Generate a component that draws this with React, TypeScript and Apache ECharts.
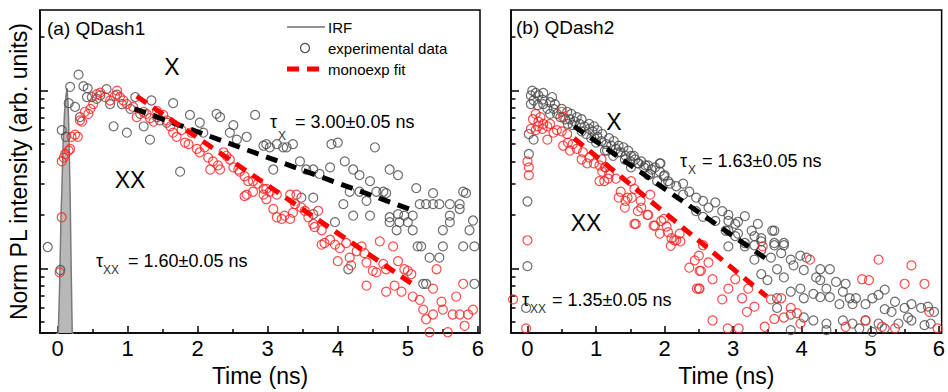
import React, { useEffect, useRef } from "react";
import * as echarts from "echarts";

const FONT = "'Liberation Sans', Arial, sans-serif";

// tick values
const xMajorTicks = [0, 1, 2, 3, 4, 5, 6];
const xMinorTicks = [0.5, 1.5, 2.5, 3.5, 4.5, 5.5];
const yMajorTicks = [0.1, 1];
const yMinorTicks = [0.05, 0.06, 0.07, 0.08, 0.09, 0.2, 0.3, 0.4, 0.5, 0.6, 0.7, 0.8, 0.9, 2];

// (a) QDash1
const qdash1IRF = [
  [-0.02, 0.03], [0.01, 0.042], [0.03, 0.08], [0.05, 0.2], [0.06, 0.26], [0.08, 0.5], [0.1, 0.75],
  [0.12, 0.93], [0.135, 1.03], [0.15, 0.85], [0.16, 0.65], [0.18, 0.26], [0.195, 0.1], [0.21, 0.043], [0.23, 0.03],
];
const qdash1X = [
  [0.06, 0.6], [0.12, 0.55], [0.16, 0.85], [0.18, 1.05], [0.3, 1.23], [0.25, 0.81], [0.32, 0.71], [0.37, 1.06],
  [0.43, 1.03], [0.42, 0.92], [0.49, 0.92], [0.56, 0.9], [0.61, 0.94], [0.7, 1.02], [0.75, 0.84], [0.85, 0.95],
  [0.8, 0.63], [0.99, 0.58], [0.92, 0.84], [1.04, 0.79], [1.11, 0.92], [1.18, 0.74], [1.23, 0.63], [1.32, 0.53],
  [1.34, 0.88], [1.42, 0.71], [1.46, 0.68], [1.56, 0.66], [1.65, 0.85], [1.75, 0.35], [1.89, 0.73], [2.03, 0.66],
  [2.08, 0.58], [2.27, 0.74], [2.32, 0.71], [2.46, 0.58], [2.51, 0.64], [2.56, 0.53], [2.82, 0.73], [2.7, 0.55],
  [2.94, 0.49], [2.98, 0.5], [3.03, 0.48], [3.08, 0.36], [3.13, 0.5], [3.22, 0.48], [3.27, 0.48], [3.36, 0.5],
  [3.46, 0.4], [3.55, 0.36], [3.65, 0.36], [3.74, 0.34], [3.89, 0.37], [3.91, 0.5], [4.0, 0.51], [4.1, 0.4],
  [4.22, 0.36], [4.31, 0.335], [4.46, 0.31], [4.53, 0.48], [4.55, 0.27], [4.65, 0.27], [4.74, 0.36], [4.86, 0.335],
  [5.12, 0.283], [5.36, 0.265], [5.83, 0.265], [-0.14, 0.132], [0.04, 0.098], [4.17, 0.27], [4.31, 0.27],
  [4.69, 0.265], [5.79, 0.27], [3.48, 0.25], [3.65, 0.25], [4.08, 0.23], [4.41, 0.24], [5.17, 0.23], [5.26, 0.23],
  [5.36, 0.23], [5.45, 0.23], [5.6, 0.23], [5.74, 0.23], [3.96, 0.182], [4.22, 0.198], [4.46, 0.198], [4.74, 0.194],
  [4.86, 0.202], [4.95, 0.198], [5.07, 0.198], [5.6, 0.198], [5.74, 0.216], [4.74, 0.182], [4.88, 0.182],
  [5.0, 0.182], [5.6, 0.182], [5.93, 0.186], [4.84, 0.164], [5.07, 0.164], [5.5, 0.164], [5.88, 0.164],
  [5.14, 0.133], [5.19, 0.133], [5.5, 0.133], [5.79, 0.133], [5.95, 0.133], [5.31, 0.115], [5.45, 0.115],
  [4.15, 0.099], [5.22, 0.082], [5.26, 0.082], [5.95, 0.082], [3.65, 0.202],
];
const qdash1XX = [
  [0.06, 0.4], [0.09, 0.42], [0.11, 0.44], [0.16, 0.46], [0.18, 0.47], [0.2, 0.55], [0.25, 0.565], [0.29, 0.55],
  [0.32, 0.68], [0.35, 0.67], [0.39, 0.76], [0.44, 0.74], [0.47, 0.79], [0.51, 0.84], [0.56, 0.955], [0.61, 0.975],
  [0.68, 0.92], [0.75, 0.88], [0.82, 0.935], [0.85, 1.0], [0.89, 0.92], [0.94, 0.88], [0.99, 0.84], [1.08, 0.81],
  [1.13, 0.71], [1.23, 0.76], [1.27, 0.74], [1.32, 0.7], [1.37, 0.67], [1.42, 0.77], [1.51, 0.73], [1.56, 0.68],
  [1.61, 0.63], [1.65, 0.58], [1.7, 0.55], [1.77, 0.6], [1.82, 0.51], [1.87, 0.5], [1.91, 0.58], [1.99, 0.47],
  [2.03, 0.45], [2.1, 0.48], [2.15, 0.42], [2.18, 0.36], [2.22, 0.4], [2.29, 0.38], [2.32, 0.36], [2.37, 0.45],
  [2.41, 0.43], [2.46, 0.41], [2.51, 0.37], [2.58, 0.36], [2.6, 0.35], [2.67, 0.33], [2.72, 0.31], [2.79, 0.31],
  [2.86, 0.3], [2.94, 0.28], [2.98, 0.28], [3.03, 0.27], [3.13, 0.26], [2.7, 0.26], [3.32, 0.26], [3.41, 0.26],
  [2.67, 0.255], [2.79, 0.27], [2.94, 0.26], [2.98, 0.245], [3.08, 0.216], [3.13, 0.194], [3.2, 0.19], [3.24, 0.198],
  [3.32, 0.19], [3.36, 0.206], [3.39, 0.23], [3.48, 0.22], [3.53, 0.211], [3.58, 0.194], [3.65, 0.178], [3.67, 0.171],
  [3.72, 0.211], [3.77, 0.164], [3.77, 0.136], [3.81, 0.139], [3.89, 0.145], [3.96, 0.136], [4.0, 0.11], [4.03, 0.13],
  [4.12, 0.139], [4.17, 0.115], [4.19, 0.104], [4.27, 0.125], [4.34, 0.133], [4.38, 0.122], [4.41, 0.108], [4.41, 0.08],
  [4.5, 0.097], [4.55, 0.095], [4.6, 0.142], [4.65, 0.106], [4.69, 0.099], [4.79, 0.133], [4.81, 0.08], [4.86, 0.11],
  [4.91, 0.074], [4.95, 0.099], [5.0, 0.097], [5.05, 0.093], [5.07, 0.0695], [5.17, 0.0666], [5.22, 0.0587],
  [5.26, 0.0518], [5.31, 0.0438], [5.36, 0.077], [5.36, 0.0551], [5.41, 0.099], [5.48, 0.065], [5.5, 0.0587],
  [5.57, 0.0438], [5.64, 0.0551], [5.69, 0.0695], [5.74, 0.0551], [5.79, 0.082], [5.81, 0.0476], [5.86, 0.0551],
  [5.93, 0.0587], [4.69, 0.074], [0.06, 0.194], [0.03, 0.095],
];
const qdash1FitX = [[1.1, 0.79], [5.1, 0.21]];
const qdash1FitXX = [[1.13, 0.93], [5.1, 0.08]];

// (b) QDash2
const qdash2X = [
  [0.07, 1.0], [0.12, 0.97], [0.05, 0.94], [0.16, 0.94], [0.09, 0.88], [0.22, 0.89], [0.05, 0.84], [0.15, 0.83],
  [0.23, 0.84], [0.33, 0.86], [0.29, 0.79], [0.38, 0.79], [0.33, 0.74], [0.43, 0.74], [0.48, 0.71], [0.55, 0.69],
  [0.62, 0.69], [0.69, 0.67], [0.59, 0.65], [0.66, 0.64], [0.76, 0.65], [0.83, 0.63], [0.9, 0.61], [0.95, 0.59],
  [0.79, 0.59], [0.86, 0.57], [1.02, 0.55], [0.93, 0.54], [1.08, 0.52], [1.0, 0.51], [1.15, 0.5], [1.22, 0.49],
  [1.29, 0.47], [1.16, 0.46], [1.36, 0.45], [1.43, 0.43], [1.55, 0.43], [1.5, 0.4], [1.62, 0.39], [1.72, 0.38],
  [1.81, 0.36], [1.93, 0.39], [1.76, 0.335], [1.93, 0.35], [2.0, 0.335], [2.05, 0.31],
  [0.23, 0.97], [0.36, 0.92], [0.4, 0.84], [0.5, 0.79], [0.58, 0.76], [0.64, 0.74], [0.72, 0.71], [0.79, 0.69],
  [0.9, 0.65], [0.97, 0.63], [1.02, 0.6], [1.09, 0.57], [1.19, 0.54], [1.26, 0.52], [1.33, 0.49], [1.4, 0.48],
  [1.47, 0.46], [1.57, 0.41], [1.66, 0.4], [1.76, 0.38], [1.86, 0.37],
  [0.02, 0.57], [0.09, 0.53], [0.02, 0.44], [0.0, 0.238], [0.0, 0.103], [-0.02, 0.06],
  [1.13, 0.46], [1.25, 0.43], [1.32, 0.45], [1.42, 0.41], [1.51, 0.43], [1.61, 0.39], [1.51, 0.37], [1.7, 0.37],
  [1.79, 0.34], [1.94, 0.39], [1.99, 0.33], [1.89, 0.31], [2.08, 0.3], [2.17, 0.29], [2.27, 0.3], [2.36, 0.27],
  [2.27, 0.26], [2.46, 0.25], [2.56, 0.24], [2.64, 0.22], [2.74, 0.235], [2.46, 0.21], [2.84, 0.21], [2.93, 0.2],
  [3.17, 0.197], [3.03, 0.178], [3.36, 0.178], [3.6, 0.163], [3.27, 0.163], [2.93, 0.163], [3.03, 0.152],
  [3.41, 0.148], [3.6, 0.139], [3.74, 0.139], [3.17, 0.139], [3.31, 0.135],
  [2.56, 0.195], [2.74, 0.185], [2.93, 0.185], [3.07, 0.183], [2.89, 0.163], [3.07, 0.157], [3.31, 0.152],
  [3.41, 0.142], [3.57, 0.163], [3.6, 0.135], [3.74, 0.135], [2.93, 0.133], [3.17, 0.133], [3.41, 0.127],
  [3.31, 0.112], [3.55, 0.115], [3.7, 0.122], [3.84, 0.112], [3.98, 0.118], [4.07, 0.115], [3.88, 0.104],
  [3.64, 0.099], [3.41, 0.093], [3.5, 0.086], [3.74, 0.089], [4.03, 0.098], [4.27, 0.099], [4.41, 0.099],
  [4.21, 0.089], [4.27, 0.086], [4.5, 0.084], [4.64, 0.082], [4.36, 0.077], [3.98, 0.077], [3.84, 0.074],
  [3.64, 0.068], [4.03, 0.068], [4.17, 0.072], [4.27, 0.069], [4.41, 0.069], [4.6, 0.074], [4.7, 0.068],
  [4.79, 0.068], [4.55, 0.063], [4.74, 0.063], [4.93, 0.063], [5.03, 0.068], [5.12, 0.071], [5.21, 0.076],
  [5.36, 0.065], [5.5, 0.06], [5.6, 0.063], [5.74, 0.06], [5.84, 0.061], [5.93, 0.057], [5.21, 0.059],
  [5.31, 0.057], [5.55, 0.053], [3.64, 0.06], [3.84, 0.055], [4.03, 0.053], [4.17, 0.051], [4.36, 0.049],
  [4.6, 0.051], [4.74, 0.049], [4.93, 0.051], [5.12, 0.049], [4.84, 0.046], [5.21, 0.046], [5.41, 0.049],
  [5.6, 0.051], [5.79, 0.048], [3.84, 0.045], [4.36, 0.045], [5.03, 0.044], [5.88, 0.049],
];
const qdash2XX = [
  [0.12, 0.74], [0.19, 0.71], [0.08, 0.69], [0.16, 0.67], [0.23, 0.65], [0.15, 0.63], [0.05, 0.61], [0.12, 0.6],
  [0.22, 0.61], [0.29, 0.63], [0.33, 0.65], [0.5, 0.76], [0.52, 0.71], [0.43, 0.6], [0.38, 0.58], [0.5, 0.59],
  [0.29, 0.53], [0.58, 0.57], [0.59, 0.51], [0.52, 0.49], [0.66, 0.5], [0.72, 0.47], [0.62, 0.46], [0.81, 0.45],
  [0.79, 0.41], [0.9, 0.42], [0.97, 0.39], [0.87, 0.39], [1.05, 0.38], [1.14, 0.37], [1.09, 0.35], [1.19, 0.34],
  [1.29, 0.32], [1.05, 0.31],
  [0.0, 0.4], [0.02, 0.37], [0.02, 0.335], [0.0, 0.144], [-0.21, 0.067], [-0.02, 0.046],
  [1.12, 0.31], [1.33, 0.25], [1.43, 0.24], [1.52, 0.25], [1.58, 0.178], [1.66, 0.22], [1.76, 0.2], [1.86, 0.174],
  [1.95, 0.185], [2.05, 0.16], [2.14, 0.144], [2.23, 0.142], [2.09, 0.134], [2.36, 0.101], [2.44, 0.111],
  [2.51, 0.097], [2.47, 0.077], [2.51, 0.077],
  [1.08, 0.41], [1.13, 0.37], [1.18, 0.32], [1.36, 0.27], [1.46, 0.25], [1.42, 0.22], [1.56, 0.28], [1.65, 0.24],
  [1.61, 0.21], [1.56, 0.178], [1.75, 0.2], [1.84, 0.174], [1.99, 0.19], [2.03, 0.172], [1.93, 0.157],
  [2.1, 0.148], [2.17, 0.144], [2.22, 0.157], [1.51, 0.31], [1.79, 0.26],
  [2.5, 0.118], [2.64, 0.108], [2.5, 0.077], [2.84, 0.067], [2.93, 0.077], [3.03, 0.087], [3.13, 0.068],
  [3.22, 0.077], [3.31, 0.061], [3.2, 0.057], [3.55, 0.067], [3.7, 0.068], [3.6, 0.052], [3.74, 0.053],
  [3.46, 0.047], [2.7, 0.051], [2.92, 0.046], [3.08, 0.046], [3.84, 0.06], [3.98, 0.049], [3.93, 0.056],
  [4.12, 0.112], [3.43, 0.133], [4.88, 0.087], [4.98, 0.086], [5.12, 0.112], [5.6, 0.104], [5.5, 0.082],
  [5.79, 0.082], [4.93, 0.051], [5.17, 0.047], [4.64, 0.047], [5.36, 0.046], [5.98, 0.046], [5.86, 0.057],
  [2.56, 0.135], [2.53, 0.097], [2.7, 0.087],
];
const qdash2FitX = [[0.68, 0.63], [3.5, 0.112]];
const qdash2FitXX = [[0.68, 0.54], [3.49, 0.0695]];

const GRAY = "#4a4a4a";
const RED = "#ff2020";

function txt(text: string, x: number, y: number, size: number, align = "left", color = "#000") {
  return {
    type: "text",
    x,
    y,
    silent: true,
    z: 100,
    style: {
      text,
      fill: color,
      fontSize: size,
      fontFamily: FONT,
      textAlign: align,
      textVerticalAlign: "middle",
      align,
      verticalAlign: "middle",
    },
  };
}

function makeAxes(gi: number, xmin: number, xmax: number, withName: boolean) {
  const xs = [
    {
      gridIndex: gi,
      type: "value",
      min: xmin,
      max: xmax,
      axisLine: { show: true, onZero: false, lineStyle: { color: "#000", width: 1.5 } },
      axisTick: { show: true, inside: true, length: 7, customValues: xMajorTicks, lineStyle: { color: "#000", width: 1.5 } },
      axisLabel: { show: true, customValues: xMajorTicks, fontSize: 22, color: "#000", fontFamily: FONT, margin: 4 },
      splitLine: { show: false },
      name: "Time (ns)",
      nameLocation: "middle",
      nameGap: 27,
      nameTextStyle: { fontSize: 23, color: "#000", fontFamily: FONT },
    },
    {
      gridIndex: gi,
      type: "value",
      min: xmin,
      max: xmax,
      position: "bottom",
      axisLine: { show: false, onZero: false },
      axisTick: { show: true, inside: true, length: 4, customValues: xMinorTicks, lineStyle: { color: "#000", width: 1.5 } },
      axisLabel: { show: false },
      splitLine: { show: false },
    },
  ];
  const ys = [
    {
      gridIndex: gi,
      type: "log",
      logBase: 10,
      min: 0.0433,
      max: 2.84,
      position: "left",
      axisLine: { show: true, onZero: false, lineStyle: { color: "#000", width: 1.5 } },
      axisTick: { show: true, inside: true, length: 8, customValues: yMajorTicks, lineStyle: { color: "#000", width: 1.5 } },
      axisLabel: { show: false },
      splitLine: { show: false },
      name: withName ? "Norm PL intensity (arb. units)" : "",
      nameLocation: "middle",
      nameGap: 10,
      nameRotate: 90,
      nameTextStyle: { fontSize: 23, color: "#000", fontFamily: FONT },
    },
    {
      gridIndex: gi,
      type: "log",
      logBase: 10,
      min: 0.0433,
      max: 2.84,
      position: "left",
      axisLine: { show: false, onZero: false },
      axisTick: { show: true, inside: true, length: 4.5, customValues: yMinorTicks, lineStyle: { color: "#000", width: 1.5 } },
      axisLabel: { show: false },
      splitLine: { show: false },
    },
  ];
  return { xs, ys };
}

function scatter(data: number[][], xi: number, color: string) {
  return {
    type: "scatter",
    xAxisIndex: xi,
    yAxisIndex: xi,
    data,
    symbol: "circle",
    symbolSize: 9,
    clip: true,
    itemStyle: { color: "rgba(0,0,0,0)", borderColor: color, borderWidth: 1.2 },
    z: 3,
  };
}

function fit(data: number[][], xi: number, color: string) {
  return {
    type: "line",
    xAxisIndex: xi,
    yAxisIndex: xi,
    data,
    symbol: "none",
    showSymbol: false,
    lineStyle: { color, width: 5, type: [12, 8] },
    z: 5,
  };
}

export default function App() {
  const ref = useRef<HTMLDivElement>(null);
  useEffect(() => {
    if (!ref.current) return;
    const chart = echarts.init(ref.current, undefined, { renderer: "svg" });
    const a = makeAxes(0, -0.25, 6.03, true);
    const b = makeAxes(1, -0.24, 6.04, false);
    const option: any = {
      animation: false,
      backgroundColor: "#fff",
      textStyle: { fontFamily: FONT },
      grid: [
        { left: 40, top: 10, width: 440, height: 333, show: true, borderColor: "#000", borderWidth: 1.5, containLabel: false },
        { left: 511, top: 10, width: 440, height: 333, show: true, borderColor: "#000", borderWidth: 1.5, containLabel: false },
      ],
      xAxis: [...a.xs, ...b.xs],
      yAxis: [...a.ys, ...b.ys],
      series: [
        {
          type: "line",
          xAxisIndex: 0,
          yAxisIndex: 0,
          data: qdash1IRF,
          symbol: "none",
          showSymbol: false,
          lineStyle: { color: "#7a7a7a", width: 1.5 },
          areaStyle: { color: "#b8b8b8", opacity: 1, origin: "start" },
          z: 1,
        },
        scatter(qdash1X, 0, GRAY),
        scatter(qdash1XX, 0, RED),
        fit(qdash1FitX, 0, "#000"),
        fit(qdash1FitXX, 0, "#ff0000"),
        scatter(qdash2X, 2, GRAY),
        scatter(qdash2XX, 2, RED),
        fit(qdash2FitX, 2, "#000"),
        fit(qdash2FitXX, 2, "#ff0000"),
      ],
      graphic: [
        txt("(a) QDash1", 47, 28, 19),
        { type: "line", silent: true, z: 100, shape: { x1: 287, y1: 27, x2: 325, y2: 27 }, style: { stroke: "#707070", lineWidth: 1.5 } },
        txt("IRF", 328, 27, 15),
        { type: "circle", silent: true, z: 100, shape: { cx: 305, cy: 48, r: 4.5 }, style: { fill: "none", stroke: GRAY, lineWidth: 1.2 } },
        txt("experimental data", 328, 48, 15),
        { type: "line", silent: true, z: 100, shape: { x1: 287, y1: 69, x2: 319, y2: 69 }, style: { stroke: "#ff0000", lineWidth: 5, lineDash: [12, 8] } },
        txt("monoexp fit", 328, 69, 15),
        txt("X", 172, 67, 23, "center"),
        txt("XX", 130, 180, 23, "center"),
        txt("τ", 270, 122, 18),
        txt("X", 278, 136, 12, "left", "#333"),
        txt("= 3.00±0.05 ns", 295, 122, 18),
        txt("τ", 96, 261, 18),
        txt("XX", 103, 270, 12, "left", "#333"),
        txt("= 1.60±0.05 ns", 128, 261, 18),

        txt("(b) QDash2", 516, 27, 19),
        txt("X", 614, 122, 23, "center"),
        txt("XX", 586, 223, 23, "center"),
        txt("τ", 680, 161, 18),
        txt("X", 688, 170, 12, "left", "#333"),
        txt("= 1.63±0.05 ns", 702, 161, 18),
        txt("τ", 522, 300, 18),
        txt("XX", 530, 309, 12, "left", "#333"),
        txt("= 1.35±0.05 ns", 552, 300, 18),
      ],
    };
    chart.setOption(option);
    return () => chart.dispose();
  }, []);
  return <div ref={ref} style={{ position: "fixed", left: 0, top: 0, width: 948, height: 392 }} />;
}
